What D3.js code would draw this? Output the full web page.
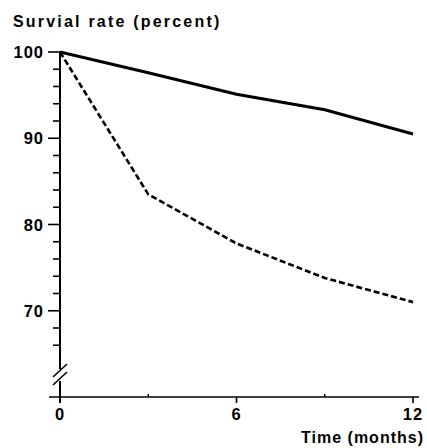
<!DOCTYPE html>
<html lang="en">
  <head>
    <meta charset="UTF-8">
    <title>Survival rate</title>
    <style>
      body { margin: 0; background: #fff; }
      text { font-family: "Liberation Sans", Arial, sans-serif; font-weight: bold; fill: #000; }
    </style>
  </head>
  <body>
    <div id="chart"></div>
    <script src="https://d3js.org/d3.v7.min.js"></script>
    <script>
      let width = 427;
      let height = 448;

      // data
      let months = [0, 3, 6, 9, 12];
      let solidRate = [100, 97.6, 95.1, 93.3, 90.5];
      let dashedRate = [100, 83.5, 77.8, 73.8, 71.0];
      let yMajor = [100, 90, 80, 70];
      let yMinor = [98, 96, 94, 92, 88, 86, 84, 82, 78, 76, 74, 72, 68, 66];
      let xMajor = [0, 6, 12];
      let xMinor = [3, 9];

      let svg = d3.select("#chart").append("svg").attr("width", width).attr("height", height);

      let x = d3.scaleLinear().domain([0, 12]).range([60, 413]);
      let y = d3.scaleLinear().domain([60, 100]).range([397, 52]);

      let axisX = 60;
      let baseY = y(60);

      // y axis line with a break
      svg.append("line").attr("x1", axisX).attr("x2", axisX)
        .attr("y1", y(100)).attr("y2", 369)
        .attr("stroke", "black").attr("stroke-width", 2);
      svg.append("line").attr("x1", axisX).attr("x2", axisX)
        .attr("y1", 381).attr("y2", baseY + 6)
        .attr("stroke", "black").attr("stroke-width", 2);
      [0, 8].forEach(function(o) {
        svg.append("line")
          .attr("x1", 53).attr("y1", 377 + o)
          .attr("x2", 67).attr("y2", 364 + o)
          .attr("stroke", "black").attr("stroke-width", 1.6);
      });

      // y ticks
      svg.selectAll(".ymaj").data(yMajor).enter().append("line")
        .attr("x1", axisX - 12).attr("x2", axisX)
        .attr("y1", function(d) { return y(d); }).attr("y2", function(d) { return y(d); })
        .attr("stroke", "black").attr("stroke-width", 1.6);
      svg.selectAll(".ymin").data(yMinor).enter().append("line")
        .attr("x1", axisX - 7).attr("x2", axisX)
        .attr("y1", function(d) { return y(d); }).attr("y2", function(d) { return y(d); })
        .attr("stroke", "black").attr("stroke-width", 1.6);
      svg.selectAll(".ylab").data(yMajor).enter().append("text")
        .attr("x", axisX - 16).attr("y", function(d) { return y(d) + 6; })
        .attr("text-anchor", "end").attr("font-size", 16.5).attr("letter-spacing", 1)
        .text(function(d) { return d; });

      // x axis
      svg.append("line").attr("x1", 49).attr("x2", 419)
        .attr("y1", baseY).attr("y2", baseY)
        .attr("stroke", "black").attr("stroke-width", 1.6);
      svg.selectAll(".xmaj").data(xMajor).enter().append("line")
        .attr("x1", function(d) { return x(d); }).attr("x2", function(d) { return x(d); })
        .attr("y1", baseY).attr("y2", baseY + 6)
        .attr("stroke", "black").attr("stroke-width", 1.6);
      svg.selectAll(".xmin").data(xMinor).enter().append("line")
        .attr("x1", function(d) { return x(d); }).attr("x2", function(d) { return x(d); })
        .attr("y1", baseY - 3).attr("y2", baseY)
        .attr("stroke", "black").attr("stroke-width", 1.4);
      svg.selectAll(".xlab").data(xMajor).enter().append("text")
        .attr("x", function(d) { return x(d); }).attr("y", baseY + 23)
        .attr("text-anchor", "middle").attr("font-size", 16.5).attr("letter-spacing", 1)
        .text(function(d) { return d; });

      // titles
      svg.append("text").attr("x", 13).attr("y", 27).attr("font-size", 16)
        .attr("letter-spacing", 2.2)
        .text("Survial rate (percent)");
      svg.append("text").attr("x", 424).attr("y", 443).attr("font-size", 16)
        .attr("text-anchor", "end").attr("letter-spacing", 1)
        .text("Time (months)");

      // lines
      let line = d3.line()
        .x(function(d) { return x(d[0]); })
        .y(function(d) { return y(d[1]); });

      svg.append("path")
        .attr("d", line(d3.zip(months, solidRate)))
        .attr("fill", "none").attr("stroke", "black").attr("stroke-width", 3);

      svg.append("path")
        .attr("d", line(d3.zip(months, dashedRate)))
        .attr("fill", "none").attr("stroke", "black").attr("stroke-width", 2.6)
        .attr("stroke-dasharray", "6,3");
    </script>
  </body>
</html>
